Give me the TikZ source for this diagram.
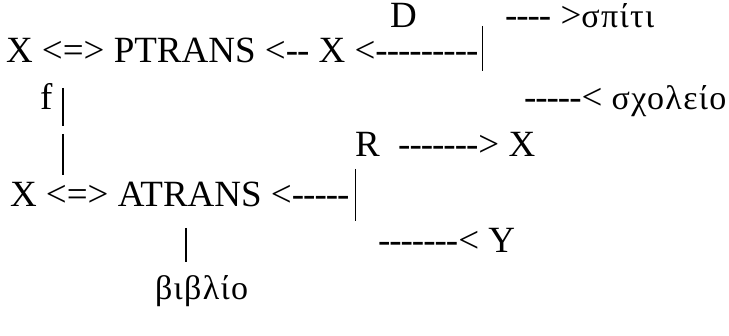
\documentclass[tikz,border=0pt]{standalone}
\usepackage{fontspec}
\setmainfont{Liberation Serif}
\newfontfamily\timesfont{Liberation Serif}
\newfontfamily\greekfont{Liberation Serif}[LetterSpace=4]
\usetikzlibrary{positioning,calc}

% a row of plain hyphens (kept apart so they do not join into dashes)
\newcommand{\dashrun}[1]{\foreach \i in {1,...,#1}{-\kern-1pt}\kern1pt\relax}
\newcommand{\gr}[1]{{\greekfont\fontsize{34}{40}\selectfont #1}}

\begin{document}
\begin{tikzpicture}[
    x=1pt, y=-1pt,
    font=\timesfont\fontsize{37}{44}\selectfont,
    txt/.style={anchor=base west, inner sep=0pt, outer sep=0pt},
    bar/.style={line width=1.1pt}
]
\useasboundingbox (0,0) rectangle (729,336);

% top line: D and the destination
\node [txt] (dd) at (390,28) {D};
\node [txt] (home) at (505,28) {\dashrun{4} >\gr{σπίτι}};

% PTRANS line
\node [txt] (ptrans) at (6,63) {X <=> PTRANS <\dashrun{2} X <\dashrun{9}};
\coordinate (ptop) at ($(ptrans.east)+(4,-25)$);
\coordinate (pbot) at ($(ptrans.east)+(4,20)$);
\draw [bar] (ptop) -- (pbot);

% f link between the two acts
\node [txt] (ff) at (40,110) {f};
\coordinate (fa) at (63,88);
\coordinate (fb) at (63,126);
\coordinate (fc) at (63,134);
\coordinate (fd) at (63,175);
\draw [bar] (fa) -- (fb);
\draw [bar] (fc) -- (fd);

% source
\node [txt] (school) at (524,110) {\dashrun{5}< \gr{σχολείο}};

% recipient
\node [txt] (rr) at (355,157) {R\ \ \dashrun{7}> X};

% ATRANS line
\node [txt] (atrans) at (10,207) {X <=> ATRANS <\dashrun{5}};
\coordinate (atop) at ($(atrans.east)+(6,-26)$);
\coordinate (abot) at ($(atrans.east)+(6,26)$);
\draw [bar] (atop) -- (abot);

% object of ATRANS
\coordinate (oa) at (186,228);
\coordinate (ob) at (186,262);
\draw [bar] (oa) -- (ob);
\node [txt] (book) at (155,300) {\gr{βιβλίο}};

% giver
\node [txt] (yy) at (378,253) {\dashrun{7}< Y};
\end{tikzpicture}
\end{document}
